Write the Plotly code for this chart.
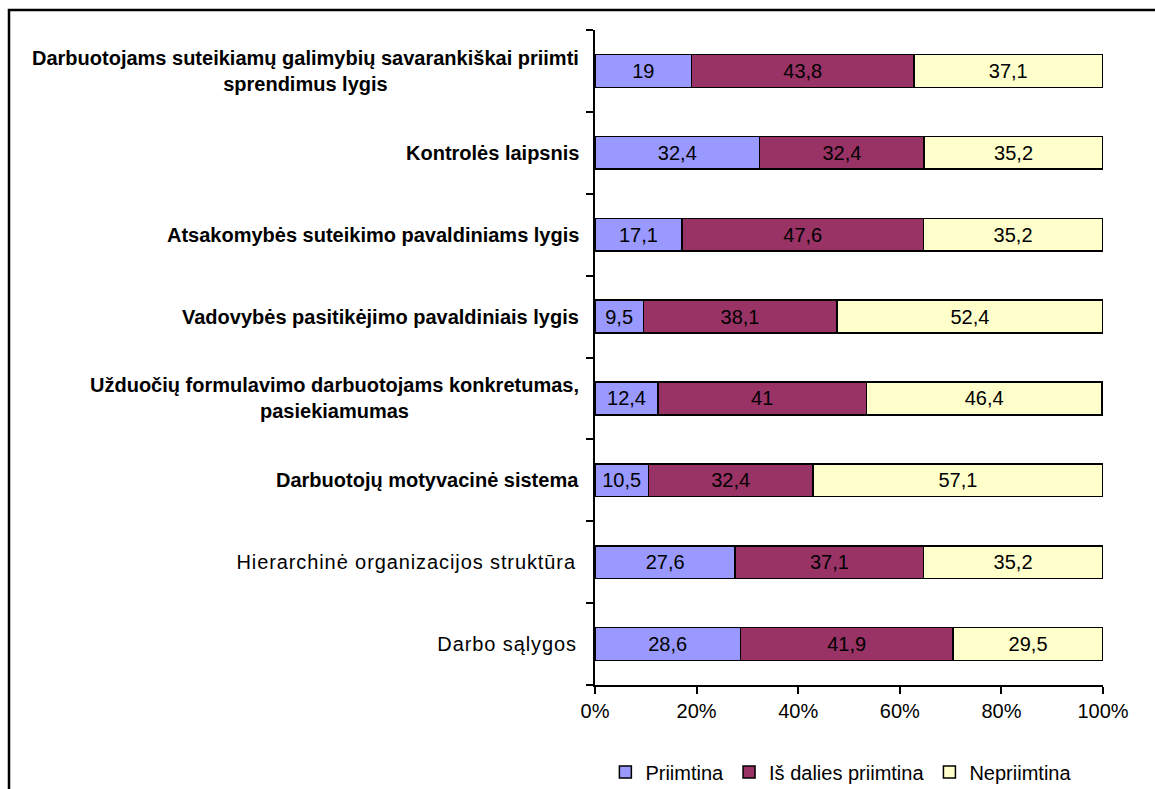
import plotly.graph_objects as go

# Categories listed top to bottom
categories = [
    "Darbuotojams suteikiamų galimybių savarankiškai priimti<br>sprendimus lygis",
    "Kontrolės laipsnis",
    "Atsakomybės suteikimo pavaldiniams lygis",
    "Vadovybės pasitikėjimo pavaldiniais lygis",
    "Užduočių formulavimo darbuotojams konkretumas,<br>pasiekiamumas",
    "Darbuotojų motyvacinė sistema",
    "Hierarchinė organizacijos struktūra",
    "Darbo sąlygos",
]
bold_flags = [True, True, True, True, True, True, False, False]

priimtina = [19, 32.4, 17.1, 9.5, 12.4, 10.5, 27.6, 28.6]
is_dalies = [43.8, 32.4, 47.6, 38.1, 41, 32.4, 37.1, 41.9]
nepriimtina = [37.1, 35.2, 35.2, 52.4, 46.4, 57.1, 35.2, 29.5]

x_ticks = [0, 20, 40, 60, 80, 100]

series = [
    ("Priimtina", priimtina, "#9999FF"),
    ("Iš dalies priimtina", is_dalies, "#993366"),
    ("Nepriimtina", nepriimtina, "#FFFFCC"),
]

FONT = "Liberation Sans, Arial, sans-serif"
FS = 20
n = len(categories)
# numeric positions: first category on top
ypos = [n - 1 - i for i in range(n)]


def fmt(v):
    return f"{v:g}".replace(".", ",")


fig = go.Figure()
for name, vals, color in series:
    fig.add_trace(go.Bar(
        y=ypos, x=vals, name=name, orientation="h", width=0.4,
        marker=dict(color=color, line=dict(color="black", width=1.5)),
        text=[fmt(v) for v in vals], textposition="inside",
        insidetextanchor="middle", textangle=0, constraintext="none",
        textfont=dict(family=FONT, size=FS, color="black"),
        hoverinfo="skip",
    ))

# category labels right-aligned against the axis; wrapped ones centred
for label, y, b in zip(categories, ypos, bold_flags):
    txt = f"<b>{label}</b>" if b else label
    fig.add_annotation(
        x=0, xref="paper", y=y, yref="y", text=txt, showarrow=False,
        xanchor="right", yanchor="middle",
        align="center" if b else "right",
        xshift=-14 if b else -16,
        font=dict(family=FONT, size=FS, color="black"),
    )

L, R, T, B = 595, 52, 30, 104
W, H = 1155, 789
pw, ph = W - L - R, H - T - B

# outer chart frame (only its top and left edges fall inside the page)
fig.add_shape(
    type="rect", xref="paper", yref="paper",
    x0=(9 - L) / pw, x1=(W + 20 - L) / pw,
    y0=-(B + 20) / ph, y1=1 + (T - 10) / ph,
    line=dict(color="black", width=2.5), fillcolor="rgba(0,0,0,0)",
    layer="below",
)

fig.update_layout(
    width=W, height=H,
    margin=dict(l=L, r=R, t=T, b=B, autoexpand=False),
    barmode="stack",
    plot_bgcolor="white", paper_bgcolor="white",
    font=dict(family=FONT, size=FS, color="black"),
    showlegend=True,
    legend=dict(
        orientation="h", x=0.485, xanchor="center",
        y=-(772 - (H - B)) / ph, yanchor="middle",
        font=dict(family=FONT, size=FS, color="black"),
        traceorder="normal", itemwidth=30, tracegroupgap=0,
    ),
    xaxis=dict(
        range=[0, 100], tickvals=x_ticks,
        ticktext=[f"{v}%" for v in x_ticks],
        ticks="outside", ticklen=7, tickcolor="black", tickwidth=1.5,
        ticklabelstandoff=0,
        showline=True, linecolor="black", linewidth=1.5,
        showgrid=False, zeroline=False, fixedrange=True,
        tickfont=dict(family=FONT, size=FS, color="black"),
    ),
    yaxis=dict(
        range=[-0.5, n - 0.5],
        tickvals=[i - 0.5 for i in range(n + 1)],
        showticklabels=False,
        ticks="outside", ticklen=7, tickcolor="black", tickwidth=1.5,
        showline=True, linecolor="black", linewidth=1.5,
        showgrid=False, zeroline=False, fixedrange=True,
    ),
)

# regular-weight category labels are set with slightly looser tracking
spaced = [i for i, b in enumerate(bold_flags) if not b]
selectors = ", ".join(f'g.annotation[data-index="{i}"] text' for i in spaced)
post_js = (
    "var st = document.createElement('style');"
    f"st.textContent = '{selectors} {{ letter-spacing: 0.9px; }}';"
    "document.head.appendChild(st);"
)

fig.write_html("out.html", post_script=post_js)
